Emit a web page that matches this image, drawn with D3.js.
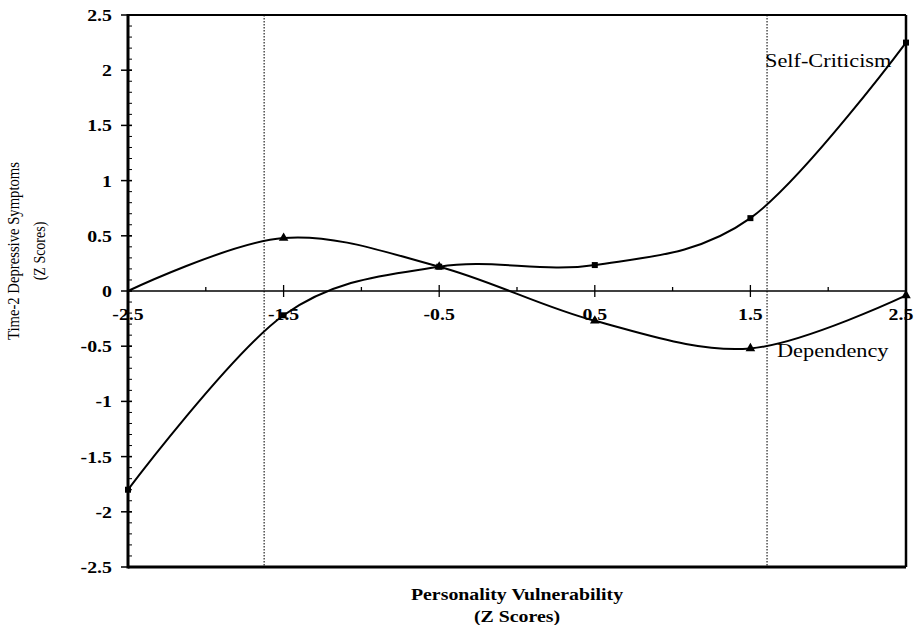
<!DOCTYPE html>
<html>
<head>
<meta charset="utf-8">
<script src="https://cdn.jsdelivr.net/npm/d3@7"></script>
<style>
    body { margin: 0; background: #fff; }
    text { font-family: "Liberation Serif", "DejaVu Serif", serif; fill: #000; }
</style>
</head>
<body>
<svg id="chart" width="916" height="625"></svg>
<script>
    // values
    var xValues = [-2.5, -1.5, -0.5, 0.5, 1.5, 2.5];
    var selfCriticism = [-1.80, -0.22, 0.22, 0.235, 0.66, 2.25];
    var dependency = [0.0, 0.48, 0.22, -0.27, -0.52, -0.04];
    var xTickLabels = ["-2.5", "-1.5", "-0.5", "0.5", "1.5", "2.5"];
    var yTickLabels = ["2.5", "2", "1.5", "1", "0.5", "0", "-0.5", "-1", "-1.5", "-2", "-2.5"];
    var cutoffs = [-1.625, 1.607];

    var svg = d3.select('#chart');
    var plotLeft = 128, plotRight = 906, plotTop = 15, plotBottom = 567;
    var stretch = 1.24; // the original is a bit wider than tall

    var x = d3.scaleLinear().domain([-2.5, 2.5]).range([plotLeft, plotRight]);
    var y = d3.scaleLinear().domain([-2.5, 2.5]).range([plotBottom, plotTop]);

    function label(px, py, str, anchor, size, weight) {
        return svg.append('text')
            .attr('transform', 'translate(' + px + ',' + py + ') scale(' + stretch + ',1)')
            .attr('text-anchor', anchor)
            .style('font-size', size + 'px')
            .style('font-weight', weight)
            .text(str);
    }

    // minor y ticks (inside)
    svg.append('g').selectAll('line')
        .data(d3.range(-25, 26).map(function(d) { return d / 10; }))
        .enter().append('line')
        .attr('x1', plotLeft).attr('x2', plotLeft + 4)
        .attr('y1', function(d) { return y(d); })
        .attr('y2', function(d) { return y(d); })
        .attr('stroke', '#000').attr('stroke-width', 1);

    // major y ticks
    svg.append('g').selectAll('line')
        .data(yTickLabels)
        .enter().append('line')
        .attr('x1', plotLeft - 7).attr('x2', plotLeft + 4)
        .attr('y1', function(d) { return y(+d); })
        .attr('y2', function(d) { return y(+d); })
        .attr('stroke', '#000').attr('stroke-width', 1.5);

    yTickLabels.forEach(function(d) {
        label(plotLeft - 16, y(+d) + 6, d, 'end', 16, 'bold');
    });

    // dotted cutoff lines
    svg.append('g').selectAll('line')
        .data(cutoffs)
        .enter().append('line')
        .attr('x1', function(d) { return x(d); })
        .attr('x2', function(d) { return x(d); })
        .attr('y1', plotTop).attr('y2', plotBottom)
        .attr('stroke', '#333').attr('stroke-width', 1.3)
        .attr('stroke-dasharray', '1.5,1.5');

    // zero line with ticks
    svg.append('line')
        .attr('x1', plotLeft).attr('x2', plotRight)
        .attr('y1', y(0)).attr('y2', y(0))
        .attr('stroke', '#000').attr('stroke-width', 1.5);

    svg.append('g').selectAll('line')
        .data([-2, -1, 0, 1, 2])
        .enter().append('line')
        .attr('x1', function(d) { return x(d); })
        .attr('x2', function(d) { return x(d); })
        .attr('y1', y(0) - 4).attr('y2', y(0))
        .attr('stroke', '#000').attr('stroke-width', 1.3);

    svg.append('g').selectAll('line')
        .data(xValues)
        .enter().append('line')
        .attr('x1', function(d) { return x(d); })
        .attr('x2', function(d) { return x(d); })
        .attr('y1', y(0) - 6).attr('y2', y(0) + 6)
        .attr('stroke', '#000').attr('stroke-width', 1.3);

    // curves
    var line = d3.line()
        .x(function(d) { return x(d[0]); })
        .y(function(d) { return y(d[1]); })
        .curve(d3.curveCatmullRom.alpha(0));

    var scData = xValues.map(function(v, i) { return [v, selfCriticism[i]]; });
    var depData = xValues.map(function(v, i) { return [v, dependency[i]]; });

    svg.append('path').datum(scData).attr('d', line)
        .attr('fill', 'none').attr('stroke', '#000').attr('stroke-width', 2);
    svg.append('path').datum(depData).attr('d', line)
        .attr('fill', 'none').attr('stroke', '#000').attr('stroke-width', 2);

    svg.append('g').selectAll('path')
        .data(scData)
        .enter().append('path')
        .attr('transform', function(d) { return 'translate(' + x(d[0]) + ',' + y(d[1]) + ')'; })
        .attr('d', d3.symbol().type(d3.symbolSquare).size(36))
        .attr('fill', '#000');

    svg.append('g').selectAll('path')
        .data(depData.slice(1))
        .enter().append('path')
        .attr('transform', function(d) { return 'translate(' + x(d[0]) + ',' + y(d[1]) + ')'; })
        .attr('d', d3.symbol().type(d3.symbolTriangle).size(40))
        .attr('fill', '#000');

    // x tick labels sit on top of the curves; keep the last one inside the page
    xTickLabels.forEach(function(d) {
        label(Math.min(x(+d), 901), y(0) + 29, d, 'middle', 16, 'bold');
    });

    // frame
    svg.append('line').attr('x1', plotLeft).attr('x2', plotRight).attr('y1', plotTop).attr('y2', plotTop)
        .attr('stroke', '#000').attr('stroke-width', 2);
    svg.append('line').attr('x1', plotRight).attr('x2', plotRight).attr('y1', plotTop).attr('y2', plotBottom)
        .attr('stroke', '#000').attr('stroke-width', 2.5);
    svg.append('line').attr('x1', plotLeft).attr('x2', plotRight).attr('y1', plotBottom).attr('y2', plotBottom)
        .attr('stroke', '#000').attr('stroke-width', 3);
    svg.append('line').attr('x1', plotLeft).attr('x2', plotLeft).attr('y1', plotTop - 1).attr('y2', plotBottom + 1.5)
        .attr('stroke', '#000').attr('stroke-width', 3);

    // series labels
    label(765, 67, 'Self-Criticism', 'start', 18, 'normal');
    label(777, 357, 'Dependency', 'start', 18, 'normal');

    // axis titles
    label(517, 600, 'Personality Vulnerability', 'middle', 16, 'bold');
    label(517, 622, '(Z Scores)', 'middle', 16, 'bold');

    var yt = svg.append('text').attr('text-anchor', 'middle')
        .attr('transform', 'translate(0,251) scale(' + stretch + ',1) rotate(-90)')
        .style('font-size', '14px');
    yt.append('tspan').attr('x', 0).attr('y', 15).attr('textLength', 178)
        .attr('lengthAdjust', 'spacingAndGlyphs').text('Time-2 Depressive Symptoms');
    yt.append('tspan').attr('x', 0).attr('y', 36).text('(Z Scores)');
</script>
</body>
</html>
